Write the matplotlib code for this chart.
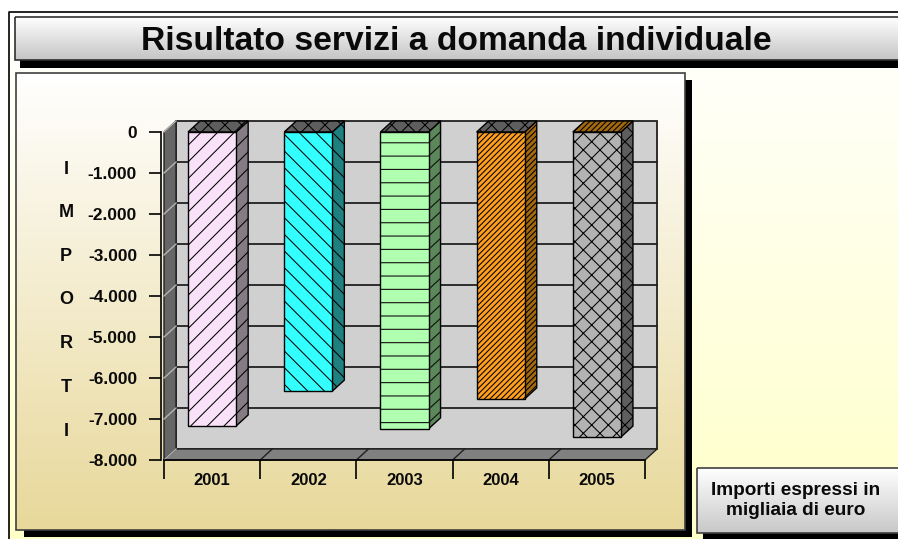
#!/usr/bin/env python3
# -*- coding: utf-8 -*-
"""Risultato servizi a domanda individuale - fake 3D bars on gradient panels"""

import matplotlib
matplotlib.use("Agg")
import matplotlib.pyplot as plt
from matplotlib.patches import Polygon, Rectangle
import numpy as np

plt.rcParams['font.family'] = ['Liberation Sans', 'DejaVu Sans']
plt.rcParams['font.weight'] = 'bold'
plt.rcParams['hatch.linewidth'] = 0.75

# data
years = ['2001', '2002', '2003', '2004', '2005']
values = [-7170, -6320, -7240, -6510, -7440]
y_ticks = [0, -1000, -2000, -3000, -4000, -5000, -6000, -7000, -8000]
y_labels = ['0', '-1.000', '-2.000', '-3.000', '-4.000', '-5.000', '-6.000',
            '-7.000', '-8.000']
title = 'Risultato servizi a domanda individuale'
note = 'Importi espressi in\nmigliaia di euro'
axis_letters = list('IMPORTI')

# styles for each bar (2003 has its stripes drawn by hand, spacing differs)
front_colors = ['#f9e2f9', '#33ffff', '#b0ffb0', '#ff9f1f', '#b2b2b2']
side_colors = ['#857b85', '#1f8080', '#5b875b', '#a2690f', '#5e5e5e']
top_colors = ['#5e5e5e', '#5e5e5e', '#5e5e5e', '#5e5e5e', '#a2690f']
hatches = ['//', '\\\\', None, '//////', 'xx']
top_hatches = ['xx', 'xx', 'xx', 'xx', '//////']

W, H = 898, 539
fig = plt.figure(figsize=(W / 100, H / 100), dpi=100)

# pixel canvas for everything that is not the chart
bg = fig.add_axes([0, 0, 1, 1], zorder=0)
bg.set_xlim(0, W)
bg.set_ylim(H, 0)
bg.axis('off')


def gradient(x0, x1, y0, y1, top, bottom, edge=None):
    '''vertical gradient box in pixel coordinates'''
    c0 = np.array(matplotlib.colors.to_rgb(top))
    c1 = np.array(matplotlib.colors.to_rgb(bottom))
    t = np.linspace(0, 1, 256)[:, None, None]
    img = c0[None, None, :] * (1 - t) + c1[None, None, :] * t
    bg.imshow(img, extent=[x0, x1, y1, y0], aspect='auto', zorder=2,
              interpolation='bilinear')
    if edge:
        bg.add_patch(Rectangle((x0, y0), x1 - x0, y1 - y0, fill=False,
                               edgecolor=edge, lw=1.2, zorder=2))


def shadow(x0, x1, y0, y1):
    bg.add_patch(Rectangle((x0, y0), x1 - x0, y1 - y0, color='black', lw=0,
                           zorder=2))


# page background and its frame
gradient(8, W + 2, 12, H + 2, '#ffffff', '#ffffc8')
bg.plot([W + 2, 8.5, 8.5], [12, 12, H + 2], color='black', lw=1.2, zorder=2)

# title box
shadow(20, W + 2, 40, 68)
gradient(15, W + 3, 17, 60, '#ffffff', '#c4c4c4', edge='#303030')
bg.text(456, 41, title, fontsize=24.2, ha='center', va='center', color='#0a0a0a',
        zorder=5)

# chart panel
shadow(24, 692, 80, 537)
gradient(16, 685, 73, 530, '#ffffff', '#e8d89a', edge='#404040')

# note box
shadow(703, W + 2, 480, H + 2)
gradient(697, W + 3, 468, 533, '#ffffff', '#c8c8c8', edge='#404040')
bg.text(796, 500.5, note, fontsize=13.7, ha='center', va='center',
        color='#0a0a0a', linespacing=1.2, zorder=5)

# vertical axis title, one letter per row
for letter, py in zip(axis_letters, np.linspace(169, 431, len(axis_letters))):
    bg.text(66, py, letter, fontsize=13, ha='center', va='center',
            color='#0a0a0a', zorder=5)

# chart axes: front plane of the fake 3D box
ax_x0, ax_x1, ax_y0, ax_y1 = 164, 645, 132, 460
ax = fig.add_axes([ax_x0 / W, 1 - ax_y1 / H, (ax_x1 - ax_x0) / W,
                   (ax_y1 - ax_y0) / H], zorder=1)
ax.patch.set_alpha(0)
ax.set_xlim(-0.5, len(years) - 0.5)
ax.set_ylim(y_ticks[-1], y_ticks[0])

# depth of the box, in data units
dx = 12 * len(years) / (ax_x1 - ax_x0)
dy = 11 * abs(y_ticks[-1]) / (ax_y1 - ax_y0)
xl, xr = ax.get_xlim()
yb, yt = ax.get_ylim()


def poly(pts, **kw):
    kw.setdefault('clip_on', False)
    ax.add_patch(Polygon(pts, closed=True, **kw))


# walls
wall_edge = '#202020'
poly([(xl + dx, yb + dy), (xr + dx, yb + dy), (xr + dx, yt + dy), (xl + dx, yt + dy)],
     facecolor='#d0d0d0', edgecolor=wall_edge, lw=1.3, zorder=1)
poly([(xl, yb), (xl + dx, yb + dy), (xl + dx, yt + dy), (xl, yt)],
     facecolor='#666666', edgecolor=wall_edge, lw=1.0, zorder=1.2)
poly([(xl, yb), (xr, yb), (xr + dx, yb + dy), (xl + dx, yb + dy)],
     facecolor='#808080', edgecolor=wall_edge, lw=1.0, zorder=1.2)

# grid on back wall, light slanted part on the side wall
for v in y_ticks[1:-1]:
    ax.plot([xl + dx, xr + dx], [v + dy, v + dy], color='#202020', lw=1.3,
            zorder=1.5, clip_on=False)
for v in y_ticks[:-1]:
    ax.plot([xl, xl + dx], [v, v + dy], color='#b4b4b4', lw=1.0, zorder=1.5,
            clip_on=False)
ax.plot([xl, xl + dx], [yb, yb + dy], color='#b4b4b4', lw=1.0, zorder=1.5)
# slanted ticks on the floor
for i in range(1, len(years)):
    ax.plot([xl + i, xl + i + dx], [yb, yb + dy], color='#202020', lw=1.0,
            zorder=1.5, clip_on=False)

# bars: front through ax.bar, side and top built from the same values
bar_w = 0.5
bars = ax.bar(range(len(years)), values, width=bar_w, color=front_colors,
              edgecolor='black', lw=1.0, zorder=4, clip_on=False)
for i, (bar, val) in enumerate(zip(bars, values)):
    bar.set_hatch(hatches[i])
    x0, x1 = i - bar_w / 2, i + bar_w / 2
    poly([(x1, 0), (x1 + dx, dy), (x1 + dx, val + dy), (x1, val)],
         facecolor=side_colors[i], edgecolor='black', lw=1.0,
         hatch=hatches[i], zorder=3)
    poly([(x0, 0), (x1, 0), (x1 + dx, dy), (x0 + dx, dy)],
         facecolor=top_colors[i], edgecolor='black', lw=1.0,
         hatch=top_hatches[i], zorder=3)
    if hatches[i] is None:
        # horizontal stripes every 13.3 px, matplotlib hatch only gives 16.7
        for s in np.arange(-263, val, -325):
            ax.plot([x0, x1, x1 + dx], [s, s, s + dy], color='#101010', lw=0.8,
                    zorder=4.5, clip_on=False)

# axes, ticks, labels
for name in ['top', 'right']:
    ax.spines[name].set_visible(False)
ax.spines['left'].set_position(('outward', 2.2))
ax.spines['left'].set_linewidth(1.2)
ax.spines['bottom'].set_linewidth(1.2)
ax.spines['bottom'].set_bounds(xl, xr)

ax.set_yticks(y_ticks)
ax.set_yticklabels(y_labels)
ax.tick_params(axis='y', length=8.6, width=1.2, pad=8.6, labelsize=12.5,
               labelcolor='#0a0a0a')
ax.set_xticks(range(len(years)))
ax.set_xticklabels(years)
ax.set_xticks(np.arange(len(years) + 1) - 0.5, minor=True)
ax.tick_params(axis='x', which='major', length=0, pad=9.5, labelsize=12,
               labelcolor='#0a0a0a')
ax.tick_params(axis='x', which='minor', length=14, width=1.2)

fig.savefig('out.png', dpi=100)
